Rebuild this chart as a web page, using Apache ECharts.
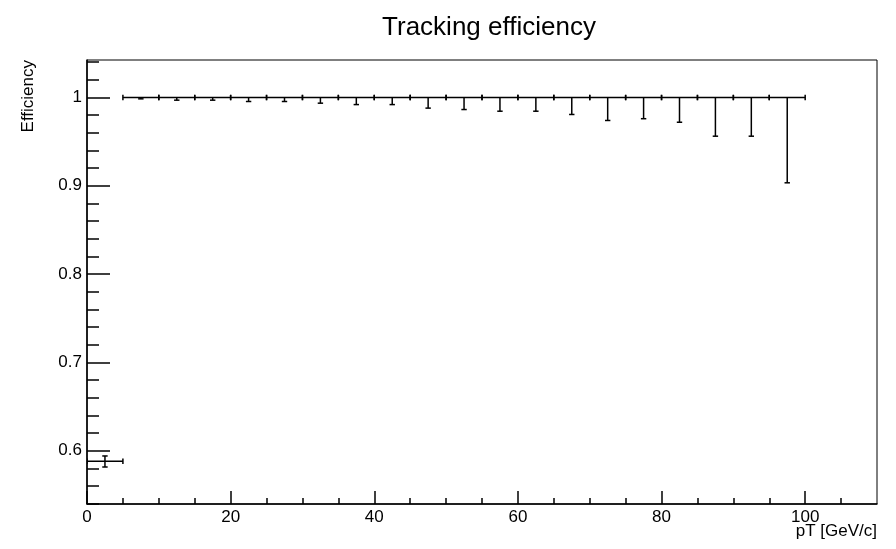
<!DOCTYPE html>
<html>
<head>
<meta charset="utf-8">
<script src="https://cdn.jsdelivr.net/npm/echarts@6/dist/echarts.min.js"></script>
<style>
html,body{margin:0;padding:0;background:#fff;}
#chart{width:896px;height:549px;}
</style>
</head>
<body>
<div id="chart"></div>
<script>
// ---- data ----
const binLow  = [0, 5, 10, 15, 20, 25, 30, 35, 40, 45, 50, 55, 60, 65, 70, 75, 80, 85, 90, 95];
const binHigh = [5, 10, 15, 20, 25, 30, 35, 40, 45, 50, 55, 60, 65, 70, 75, 80, 85, 90, 95, 100];
const efficiency = [0.588, 1, 1, 1, 1, 1, 1, 1, 1, 1, 1, 1, 1, 1, 1, 1, 1, 1, 1, 1];
const errLow = [0.0065, 0.0015, 0.003, 0.003, 0.0045, 0.0045, 0.0064, 0.008, 0.008, 0.012,
                0.0136, 0.0155, 0.0155, 0.0192, 0.026, 0.024, 0.028, 0.0438, 0.0438, 0.0966];
const errUp  = [0.006, 0, 0, 0, 0, 0, 0, 0, 0, 0, 0, 0, 0, 0, 0, 0, 0, 0, 0, 0];

const yMajorTicks = [0.6, 0.7, 0.8, 0.9, 1.0];
const yMinorTicks = [0.54, 0.56, 0.58, 0.62, 0.64, 0.66, 0.68, 0.72, 0.74, 0.76, 0.78,
                     0.82, 0.84, 0.86, 0.88, 0.92, 0.94, 0.96, 0.98, 1.02, 1.04];
const xMajorTicks = [0, 20, 40, 60, 80, 100];
const xMinorTicks = [5, 10, 15, 25, 30, 35, 45, 50, 55, 65, 70, 75, 85, 90, 95, 105];

const titleText = 'Tracking efficiency';
const xTitle = 'pT [GeV/c]';
const yTitle = 'Efficiency';

const seriesData = binLow.map((lo, i) => [lo, binHigh[i], efficiency[i], errLow[i], errUp[i]]);

const FONT = '"Liberation Sans", Arial, Helvetica, sans-serif';

function renderItem(params, api) {
  const xlo = api.value(0), xhi = api.value(1), y = api.value(2);
  const el = api.value(3), eu = api.value(4);
  const xc = (xlo + xhi) / 2;
  const pL = api.coord([xlo, y]);
  const pR = api.coord([xhi, y]);
  const pB = api.coord([xc, y - el]);
  const pT = api.coord([xc, y + eu]);
  const c = 2.7;
  const style = { stroke: '#000', lineWidth: 1.5 };
  const L = (x1, y1, x2, y2) => ({ type: 'line', shape: { x1, y1, x2, y2 }, style });
  const children = [
    L(pL[0], pL[1], pR[0], pR[1]),
    L(pL[0], pL[1] - c, pL[0], pL[1] + c),
    L(pR[0], pR[1] - c, pR[0], pR[1] + c),
    L(pB[0], pB[1], pT[0], pT[1])
  ];
  if (el > 0) children.push(L(pB[0] - c, pB[1], pB[0] + c, pB[1]));
  if (eu > 0) children.push(L(pT[0] - c, pT[1], pT[0] + c, pT[1]));
  return { type: 'group', children };
}

const chart = echarts.init(document.getElementById('chart'), null, { renderer: 'canvas' });
const yMin = 0.5396, yMax = 1.0425;
chart.setOption({
  backgroundColor: '#fff',
  animation: false,
  title: {
    text: titleText,
    left: 484,
    top: 10,
    textAlign: 'center',
    textStyle: { fontFamily: FONT, fontSize: 26, fontWeight: 'normal', color: '#000' }
  },
  grid: {
    left: 87, right: 19, top: 60, bottom: 45,
    show: true, borderColor: '#000', borderWidth: 1, backgroundColor: 'transparent'
  },
  xAxis: [
    {
      type: 'value', min: 0, max: 110, position: 'bottom',
      axisLine: { show: true, lineStyle: { color: '#000', width: 1.5 } },
      axisTick: { show: true, inside: true, length: 13, customValues: xMajorTicks, lineStyle: { color: '#000', width: 1.5 } },
      axisLabel: { customValues: xMajorTicks, fontFamily: FONT, fontSize: 17, color: '#000', margin: 5 },
      splitLine: { show: false }
    },
    {
      type: 'value', min: 0, max: 110, position: 'bottom', offset: 0,
      axisLine: { show: false },
      axisTick: { show: true, inside: true, length: 6, customValues: xMinorTicks, lineStyle: { color: '#000', width: 1.5 } },
      axisLabel: { show: false },
      splitLine: { show: false }
    }
  ],
  yAxis: [
    {
      type: 'value', min: yMin, max: yMax, position: 'left',
      axisLine: { show: true, lineStyle: { color: '#000', width: 1.5 } },
      axisTick: { show: true, inside: true, length: 23, customValues: yMajorTicks, lineStyle: { color: '#000', width: 1.5 } },
      axisLabel: {
        customValues: yMajorTicks, fontFamily: FONT, fontSize: 17, color: '#000', margin: 5,
        formatter: v => String(+(+v).toFixed(2))
      },
      splitLine: { show: false }
    },
    {
      type: 'value', min: yMin, max: yMax, position: 'left', offset: 0,
      axisLine: { show: false },
      axisTick: { show: true, inside: true, length: 12, customValues: yMinorTicks, lineStyle: { color: '#000', width: 1.5 } },
      axisLabel: { show: false },
      splitLine: { show: false }
    }
  ],
  graphic: [
    {
      type: 'text', x: 28, y: 60, rotation: Math.PI / 2,
      style: { text: yTitle, fontFamily: FONT, fontSize: 17, fill: '#000', align: 'right', verticalAlign: 'middle' }
    },
    {
      type: 'text', x: 877, y: 531,
      style: { text: xTitle, fontFamily: FONT, fontSize: 17, fill: '#000', align: 'right', verticalAlign: 'middle' }
    }
  ],
  series: [
    {
      type: 'custom',
      xAxisIndex: 0, yAxisIndex: 0,
      renderItem: renderItem,
      encode: { x: [0, 1], y: 2 },
      data: seriesData,
      clip: true
    }
  ]
});
</script>
</body>
</html>
